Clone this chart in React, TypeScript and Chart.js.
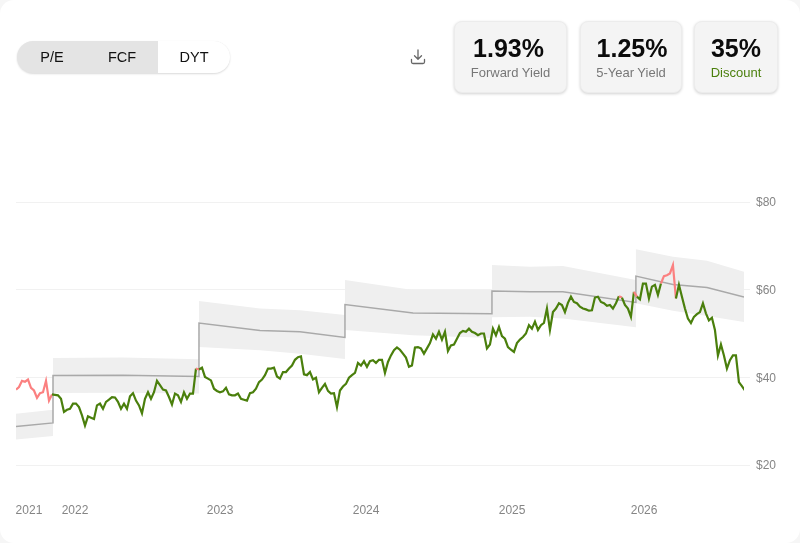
import React, { useEffect, useRef } from "react";
import { Chart, registerables } from "chart.js";

Chart.register(...registerables);

const tabs = ["P/E", "FCF", "DYT"];

const stats = [
  { value: "1.93%", label: "Forward Yield", left: 454, width: 113, shift: -2 },
  { value: "1.25%", label: "5-Year Yield", left: 580, width: 102, shift: 1 },
  { value: "35%", label: "Discount", left: 694, width: 84, shift: 0 },
];

const yearLabels = ["2021", "2022", "2023", "2024", "2025", "2026"];
const yearTicks = [2021.684, 2022.0, 2022.996, 2023.998, 2025.0, 2025.906];

const firstYear = 2021.595;
const lastYear = 2026.592;
const weekStep = 0.02059;

// weekly close
const prices = [
  37.2, 37.8, 39.2, 39.0, 39.5, 37.6, 37.0, 35.3, 36.4, 36.6, 39.2, 34.7, 36.1,
  36.0, 35.9, 35.1, 32.1, 32.6, 32.8, 34.0, 34.0, 33.2, 31.3, 29.0, 31.1, 30.8,
  30.5, 33.6, 34.0, 32.8, 34.4, 34.9, 35.5, 35.4, 34.4, 32.8, 34.0, 32.8, 35.7,
  36.4, 34.7, 33.6, 31.8, 35.1, 36.6, 35.1, 36.6, 39.2, 38.2, 37.2, 37.0, 35.5,
  33.8, 36.3, 35.9, 34.4, 36.6, 35.1, 36.3, 36.3, 42.0, 41.8, 42.2, 40.1, 39.7,
  39.3, 37.4, 36.9, 36.6, 36.8, 37.6, 36.1, 35.9, 35.9, 36.3, 35.1, 34.9, 34.7,
  36.4, 36.6, 37.4, 38.9, 39.5, 40.5, 42.0,
  42.0, 42.2, 40.2, 39.7, 41.2, 41.2, 42.0, 42.7, 44.0, 44.6, 44.8, 40.7, 40.5,
  41.2, 39.5, 39.9, 36.6, 37.6, 38.5, 36.9, 36.3, 36.4, 33.2, 37.0, 37.9, 38.5,
  39.9, 40.5, 41.0, 43.3, 42.7, 43.7, 42.4, 43.7, 43.9, 43.3, 44.0, 44.0, 41.0,
  43.5, 45.0, 46.2, 46.8, 46.3, 45.4, 44.5, 42.4, 42.7, 46.8, 46.9, 46.6, 45.4,
  46.6, 47.8, 49.8, 48.8, 50.4, 48.6, 50.4, 46.0, 47.3, 47.5, 48.8, 50.1, 50.6,
  50.4, 51.1, 50.4, 50.1, 49.6, 50.0, 50.0, 46.6, 47.5, 51.1, 49.6, 51.5, 49.4,
  48.8, 46.9, 46.3, 45.8, 47.8, 48.6, 49.2, 50.0, 51.9,
  51.1, 52.7, 50.8, 51.9, 52.4, 55.7, 50.8, 54.9, 55.7, 56.9, 56.5, 54.9, 57.0,
  58.4, 57.2, 56.9, 56.1, 55.7, 55.5, 55.2, 55.3, 58.2, 58.4, 57.2, 56.9, 56.3,
  56.5, 55.7, 56.9, 58.5, 58.2, 56.5, 55.7, 53.8, 59.5, 58.4, 57.8, 61.4, 61.4,
  58.0, 60.7, 61.1, 58.8, 61.4, 63.1, 63.3, 63.7, 65.6, 58.0, 61.1, 58.4, 55.7,
  53.4, 52.4, 53.8, 54.4, 54.9, 56.9, 54.6, 53.0, 53.6, 50.8, 45.0, 47.5, 45.0,
  42.0, 43.9, 45.0, 45.0, 38.9, 38.0, 37.0,
];

// fair value and its range, stepping once a year
const bandYears = [
  2021.595, 2021.849, 2021.849, 2022.329, 2022.851, 2022.851, 2023.27, 2023.544,
  2023.853, 2023.853, 2024.32, 2024.862, 2024.862, 2025.123, 2025.349, 2025.85,
  2025.85, 2026.104, 2026.338, 2026.592,
];
const fairValue = [
  28.8, 29.6, 40.4, 40.5, 40.2, 52.4, 50.7, 50.4, 49.1, 56.6, 54.7, 54.5, 59.7,
  59.5, 59.5, 57.1, 63.1, 61.2, 60.5, 58.3,
];
const upperBand = [
  31.7, 32.6, 44.4, 44.5, 44.1, 57.4, 55.7, 55.3, 54.2, 62.2, 59.9, 59.9, 65.6,
  65.2, 65.4, 62.2, 69.2, 67.5, 66.6, 64.1,
];
const lowerBand = [
  25.8, 26.6, 36.4, 36.5, 36.3, 46.9, 46.2, 45.4, 44.2, 50.8, 49.6, 49.0, 53.7,
  53.8, 53.4, 51.4, 56.9, 55.2, 54.0, 52.6,
];

const GREEN = "#4a7f0c";
const RED = "#fb8080";
const FONT = "'Liberation Sans', Arial, sans-serif";

const fairAt = (x: number) => {
  let i = 0;
  while (i < bandYears.length - 2 && bandYears[i + 1] <= x) i++;
  const span = bandYears[i + 1] - bandYears[i];
  if (span === 0) return fairValue[i + 1];
  return fairValue[i] + ((fairValue[i + 1] - fairValue[i]) * (x - bandYears[i])) / span;
};

const toPoints = (values: number[], years: number[]) =>
  values.map((y, i) => ({ x: years[i], y }));

const renderChart = (canvas: HTMLCanvasElement) => {
  const priceYears = prices.map((_, i) => firstYear + i * weekStep);

  return new Chart(canvas, {
    type: "line",
    data: {
      datasets: [
        {
          data: toPoints(prices, priceYears),
          borderColor: GREEN,
          borderWidth: 2.2,
          pointRadius: 0,
          tension: 0,
          segment: {
            borderColor: (ctx: any) => {
              const midX = (ctx.p0.parsed.x + ctx.p1.parsed.x) / 2;
              const midY = (ctx.p0.parsed.y + ctx.p1.parsed.y) / 2;
              return midY > fairAt(midX) ? RED : GREEN;
            },
          },
          order: 0,
        },
        {
          data: toPoints(fairValue, bandYears),
          borderColor: "#a9a9a9",
          borderWidth: 1.5,
          pointRadius: 0,
          tension: 0,
          order: 1,
        },
        {
          data: toPoints(upperBand, bandYears),
          borderWidth: 0,
          pointRadius: 0,
          tension: 0,
          backgroundColor: "#efefef",
          fill: "+1",
          order: 2,
        },
        {
          data: toPoints(lowerBand, bandYears),
          borderWidth: 0,
          pointRadius: 0,
          tension: 0,
          order: 3,
        },
      ],
    },
    options: {
      responsive: false,
      animation: false,
      layout: { padding: { top: 202, left: 16, right: 0, bottom: 0 } },
      plugins: { legend: { display: false }, tooltip: { enabled: false } },
      scales: {
        x: {
          type: "linear",
          min: firstYear,
          max: lastYear,
          border: { display: false },
          grid: { display: false },
          afterBuildTicks: (scale: any) => {
            scale.ticks = yearTicks.map((value) => ({ value }));
          },
          afterFit: (scale: any) => {
            scale.height = 78;
            scale.paddingLeft = 0;
            scale.paddingRight = 0;
          },
          ticks: {
            autoSkip: false,
            maxRotation: 0,
            padding: 30,
            color: "#858585",
            font: { family: FONT, size: 12 },
            callback: (_: any, i: number) => yearLabels[i],
          },
        },
        y: {
          position: "right",
          min: 20,
          max: 80,
          border: { display: false },
          grid: { color: "#f1f1f1", tickLength: 6 },
          afterFit: (scale: any) => {
            scale.width = 56;
            scale.paddingTop = 0;
            scale.paddingBottom = 0;
          },
          ticks: {
            stepSize: 20,
            padding: 6,
            labelOffset: 1,
            color: "#858585",
            font: { family: FONT, size: 12 },
            callback: (value: any) => `$${value}`,
          },
        },
      },
    },
  });
};

export default function App() {
  const chartRef = useRef<HTMLCanvasElement>(null);

  useEffect(() => {
    const chart = renderChart(chartRef.current!);
    return () => {
      chart.destroy();
    };
  }, []);

  return (
    <div
      style={{
        position: "absolute",
        left: 0,
        top: 0,
        width: 800,
        height: 543,
        background: "#f6f6f6",
        fontFamily: FONT,
      }}
    >
      <div
        style={{
          position: "absolute",
          inset: 0,
          background: "#fff",
          borderRadius: 14,
        }}
      />
      <canvas
        ref={chartRef}
        width={800}
        height={543}
        style={{ position: "absolute", left: 0, top: 0, display: "block" }}
      />

      <div
        style={{
          position: "absolute",
          left: 17,
          top: 41,
          width: 213,
          height: 32,
          borderRadius: 16,
          background: "#e4e4e4",
          boxShadow: "0 1px 2px rgba(0,0,0,0.15)",
          overflow: "hidden",
        }}
      >
        <div
          style={{
            position: "absolute",
            left: 141,
            top: 0,
            width: 72,
            height: 32,
            background: "#fff",
          }}
        />
        {tabs.map((tab, i) => (
          <div
            key={tab}
            style={{
              position: "absolute",
              left: [0, 69, 141][i],
              width: [70, 72, 72][i],
              top: 0,
              lineHeight: "32px",
              textAlign: "center",
              fontSize: 14.5,
              color: "#111",
            }}
          >
            {tab}
          </div>
        ))}
      </div>

      <svg
        width="18"
        height="18"
        viewBox="0 0 18 18"
        fill="none"
        stroke="#666"
        strokeWidth="1.3"
        strokeLinecap="round"
        strokeLinejoin="round"
        style={{ position: "absolute", left: 409, top: 48 }}
      >
        <path d="M9 2 V11 M5.5 7.8 L9 11.3 L12.5 7.8" />
        <path d="M2.5 11.5 V14 Q2.5 15.5 4 15.5 H14 Q15.5 15.5 15.5 14 V11.5" />
      </svg>

      {stats.map((stat) => (
        <div
          key={stat.label}
          style={{
            position: "absolute",
            left: stat.left,
            top: 21,
            width: stat.width,
            height: 72,
            boxSizing: "border-box",
            background: "#f4f4f4",
            border: "1px solid #ececec",
            borderRadius: 8,
            boxShadow: "0 1px 3px rgba(0,0,0,0.18)",
            textAlign: "center",
          }}
        >
          <div
            style={{
              marginTop: 12,
              fontSize: 25,
              lineHeight: "28px",
              fontWeight: 700,
              color: "#0b0b0b",
              position: "relative",
              left: stat.shift,
            }}
          >
            {stat.value}
          </div>
          <div
            style={{
              marginTop: 3,
              fontSize: 13,
              lineHeight: "16px",
              color: stat.label === "Discount" ? "#4a7f0c" : "#777",
            }}
          >
            {stat.label}
          </div>
        </div>
      ))}
    </div>
  );
}
